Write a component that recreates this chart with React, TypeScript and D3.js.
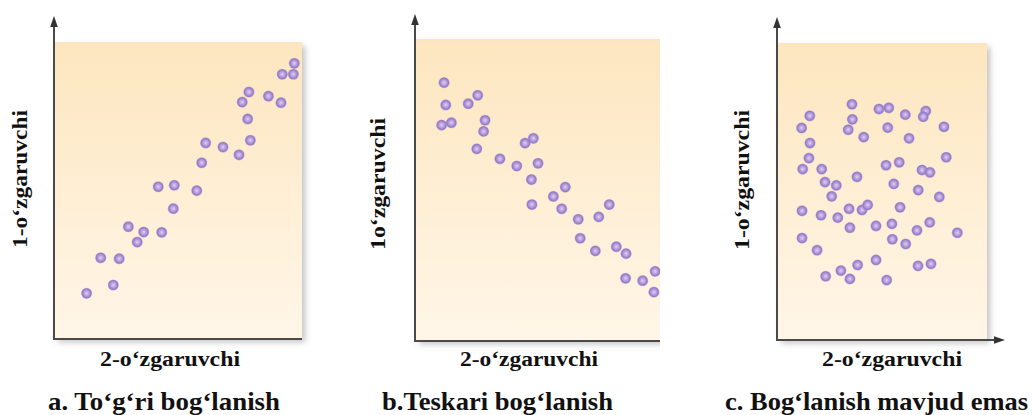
import React from "react";
import * as d3 from "d3";

// ---- data (values in 0..100 units of each panel) ----
const pointsA: [number, number][] = [
  [12.8, 15.1], [23.6, 17.9], [18.5, 27.1], [26.0, 26.8], [29.7, 37.6],
  [33.3, 32.4], [35.9, 35.8], [43.2, 35.7], [41.8, 51.1], [48.3, 51.6],
  [47.9, 43.7], [57.4, 49.8], [59.4, 59.2], [61.0, 65.9], [68.0, 64.5],
  [74.5, 61.9], [79.1, 66.8], [78.0, 74.0], [75.8, 79.7], [78.5, 83.1],
  [86.4, 81.7], [91.5, 79.5], [92.0, 89.1], [96.5, 89.1], [96.9, 92.8],
];
const pointsB: [number, number][] = [
  [11.5, 85.5], [12.2, 78.1], [10.5, 71.4], [14.5, 72.2], [21.4, 78.5],
  [25.3, 81.3], [28.3, 73.0], [27.7, 69.3], [24.9, 63.5], [34.4, 60.2],
  [41.3, 57.8], [44.7, 65.4], [48.1, 67.0], [50.0, 58.7], [47.3, 53.3],
  [47.5, 45.0], [56.3, 47.7], [61.2, 50.8], [59.7, 43.6], [66.5, 40.1],
  [74.9, 40.9], [79.2, 45.0], [67.3, 33.8], [73.5, 29.6], [82.1, 31.0],
  [86.1, 28.7], [85.9, 20.5], [92.9, 19.7], [98.0, 22.8], [97.5, 15.9],
];
const pointsC: [number, number][] = [
  [35.4, 79.3], [48.3, 77.7], [53.0, 78.1], [15.2, 75.4], [35.6, 74.2],
  [60.9, 75.8], [70.7, 77.0], [69.5, 75.1], [11.3, 71.3], [33.6, 70.7],
  [52.5, 71.4], [79.4, 71.7], [41.0, 68.2], [62.7, 67.8], [15.3, 66.2],
  [14.8, 61.1], [80.5, 61.4], [11.8, 57.4], [20.9, 57.4], [51.7, 58.7],
  [58.0, 59.7], [68.9, 57.1], [72.7, 56.3], [22.5, 53.0], [27.9, 51.9],
  [37.8, 54.8], [55.4, 52.4], [25.7, 48.2], [67.1, 50.3], [77.2, 48.0],
  [11.5, 43.3], [20.6, 41.8], [28.6, 41.0], [34.0, 44.0], [40.2, 43.6],
  [42.9, 45.3], [58.4, 44.5], [34.4, 37.6], [46.9, 38.2], [54.5, 38.9],
  [66.5, 36.7], [72.6, 39.4], [85.8, 35.9], [11.5, 34.1], [54.7, 33.7],
  [61.1, 32.1], [18.7, 30.0], [46.9, 26.7], [38.1, 25.0], [30.1, 23.1],
  [67.0, 24.7], [73.2, 25.4], [22.8, 21.2], [34.4, 20.3], [52.0, 19.9],
];
const yLabels = ["1-o‘zgaruvchi", "1o‘zgaruvchi", "1-o‘zgaruvchi"];
const xLabels = ["2-o‘zgaruvchi", "2-o‘zgaruvchi", "2-o‘zgaruvchi"];
const titles = ["a. To‘g‘ri bog‘lanish", "b.Teskari bog‘lanish", "c. Bog‘lanish mavjud emas"];

// ---- layout ----
const panels = [
  { pts: pointsA, left: 55, right: 302, top: 42, bottom: 338, axisX: 54, axisY: 339, arrowTop: 16, xEnd: 302, xArrow: false, clipRight: 1032,
    yLab: { x: 27, y: 179, len: 138 }, xLab: { x: 100, y: 366, len: 140 }, title: { x: 48, y: 410, len: 232 } },
  { pts: pointsB, left: 416, right: 660, top: 39, bottom: 340, axisX: 415, axisY: 341, arrowTop: 14, xEnd: 660, xArrow: false, clipRight: 660,
    yLab: { x: 385, y: 184, len: 132 }, xLab: { x: 460, y: 366, len: 138 }, title: { x: 382, y: 410, len: 231 } },
  { pts: pointsC, left: 778, right: 987, top: 43, bottom: 339, axisX: 777, axisY: 340, arrowTop: 17, xEnd: 1005, xArrow: true, clipRight: 1032,
    yLab: { x: 749, y: 180, len: 140 }, xLab: { x: 822, y: 366, len: 140 }, title: { x: 725, y: 410, len: 303 } },
];

const axisColor = "#4a4a4a";

export default function App() {
  return (
    <svg width={1032} height={415} style={{ position: "absolute", left: 0, top: 0, background: "#fff" }}>
      <defs>
        <linearGradient id="bg" x1="0" y1="0" x2="0" y2="1">
          <stop offset="0%" stopColor="#fde6bf" />
          <stop offset="100%" stopColor="#fff6e8" />
        </linearGradient>
        <radialGradient id="dot" cx="50%" cy="50%" r="50%">
          <stop offset="0%" stopColor="#ddd0f2" />
          <stop offset="45%" stopColor="#b8a0de" />
          <stop offset="80%" stopColor="#9579c6" />
          <stop offset="100%" stopColor="#a58bd0" stopOpacity="0.6" />
        </radialGradient>
        <filter id="shadow" x="-10%" y="-10%" width="130%" height="130%">
          <feDropShadow dx="3" dy="4" stdDeviation="3" floodColor="#777" floodOpacity="0.45" />
        </filter>
        {panels.map((p, i) => (
          <clipPath id={`clip${i}`} key={i}>
            <rect x={0} y={0} width={p.clipRight} height={415} />
          </clipPath>
        ))}
      </defs>
      {panels.map((p, i) => {
        const x = d3.scaleLinear().domain([0, 100]).range([p.left, p.right]);
        const y = d3.scaleLinear().domain([0, 100]).range([p.bottom, p.top]);
        return (
          <g key={i}>
            <g clipPath={`url(#clip${i})`}>
              <rect x={p.left} y={p.top} width={p.right - p.left} height={p.bottom - p.top} fill="url(#bg)" filter="url(#shadow)" />
              {p.pts.map((d, j) => (
                <circle key={j} cx={x(d[0])} cy={y(d[1])} r={5.6} fill="url(#dot)" />
              ))}
              <line x1={p.axisX} x2={p.axisX} y1={p.axisY} y2={p.arrowTop + 8} stroke={axisColor} strokeWidth={2} />
              <path d={`M${p.axisX},${p.arrowTop} L${p.axisX - 3.8},${p.arrowTop + 11} L${p.axisX + 3.8},${p.arrowTop + 11} Z`} fill="#333" />
              <line x1={p.axisX - 1} x2={p.xArrow ? p.xEnd - 8 : p.xEnd} y1={p.axisY} y2={p.axisY} stroke={axisColor} strokeWidth={2} />
              {p.xArrow && (
                <path d={`M${p.xEnd},${p.axisY} L${p.xEnd - 11},${p.axisY - 3.8} L${p.xEnd - 11},${p.axisY + 3.8} Z`} fill="#333" />
              )}
            </g>
            <text
              transform={`translate(${p.yLab.x},${p.yLab.y}) rotate(-90)`}
              textAnchor="middle"
              fontFamily="'Liberation Serif', 'Times New Roman', serif"
              fontWeight="bold"
              fontSize={20}
              textLength={p.yLab.len}
              lengthAdjust="spacingAndGlyphs"
              fill="#111"
            >
              {yLabels[i]}
            </text>
            <text
              x={p.xLab.x}
              y={p.xLab.y}
              fontFamily="'Liberation Serif', 'Times New Roman', serif"
              fontWeight="bold"
              fontSize={20}
              textLength={p.xLab.len}
              lengthAdjust="spacingAndGlyphs"
              fill="#111"
            >
              {xLabels[i]}
            </text>
            <text
              x={p.title.x}
              y={p.title.y}
              fontFamily="'Liberation Serif', 'Times New Roman', serif"
              fontWeight="bold"
              fontSize={26}
              textLength={p.title.len}
              lengthAdjust="spacingAndGlyphs"
              fill="#111"
            >
              {titles[i]}
            </text>
          </g>
        );
      })}
    </svg>
  );
}
